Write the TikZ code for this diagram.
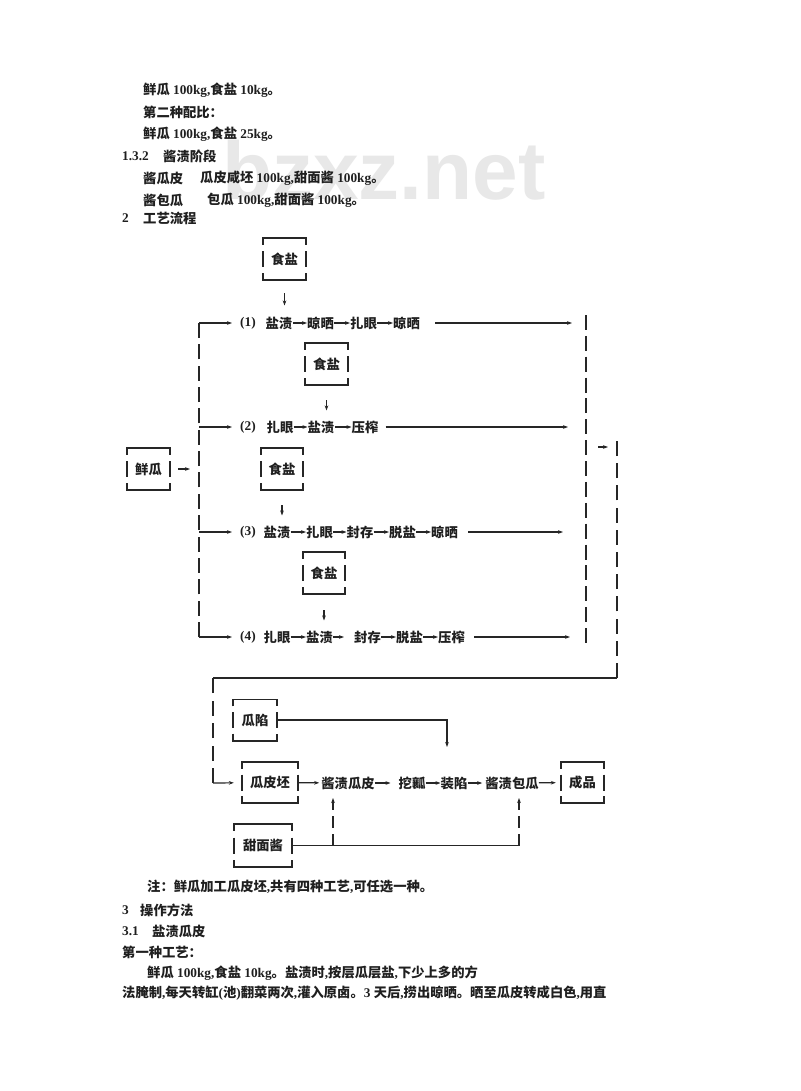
\documentclass[tikz,border=0pt]{standalone}
\usepackage{fontspec}
\setmainfont{Liberation Serif}
\newfontfamily\cjk{Noto Sans CJK SC}
\newfontfamily\latf{Liberation Serif}
\newfontfamily\wmf{Liberation Sans}
\usetikzlibrary{arrows.meta,calc}
\newcommand\enf[1]{{\latf\bfseries #1}}
\newcommand\brbox[6]{%
  \node[bxt, minimum width=#4, minimum height=#5] (#1) at (#2,#3) {#6};
  \draw[bxl] ([yshift=-7pt]#1.north west) -- (#1.north west) -- (#1.north east) -- ([yshift=-7pt]#1.north east);
  \draw[bxl] ([yshift=7pt]#1.south west) -- (#1.south west) -- (#1.south east) -- ([yshift=7pt]#1.south east);
  \draw[bxl] ([yshift=8pt]#1.west) -- ([yshift=-8pt]#1.west);
  \draw[bxl] ([yshift=8pt]#1.east) -- ([yshift=-8pt]#1.east);
}
\begin{document}
\begin{tikzpicture}[x=1pt,y=-1pt,
  txt/.style={font=\cjk\bfseries\fontsize{13.3}{15}\selectfont, inner sep=0pt, anchor=west, text=black!88},
  wd/.style={font=\cjk\bfseries\fontsize{13.3}{15}\selectfont, inner sep=0pt, text=black!88},
  bxt/.style={wd},
  bxl/.style={line width=1.6pt, draw=black!85},
  ln/.style={line width=1.2pt, draw=black!85},
  ar/.style={ln, -{Stealth[length=5pt,width=3.6pt]}},
  dsh/.style={line width=1.8pt, draw=black!85, dash pattern=on 15pt off #1},
  dsh/.default=6.36pt,
  dshar/.style={line width=1.5pt, draw=black!85, dash pattern=on 12pt off 6pt, -{Stealth[length=5pt,width=3.6pt]}}
]
\useasboundingbox[fill=white] (0,0) rectangle (800,1091);

% watermark
\node[font=\wmf\bfseries\fontsize{82}{82}\selectfont, text=black!9, anchor=base west, inner sep=0pt] (wm) at (222,200) {bzxz.net};

% top text
\node[txt] (t1) at (143,90) {鲜瓜\enf{ 100kg,}食盐\enf{ 10kg}。};
\node[txt] (t2) at (143,112) {第二种配比：};
\node[txt] (t3) at (143,134) {鲜瓜\enf{ 100kg,}食盐\enf{ 25kg}。};
\node[txt] (t4a) at (122,156) {\enf{1.3.2}};
\node[txt] (t4b) at (163,156) {酱渍阶段};
\node[txt] (t5a) at (143,178) {酱瓜皮};
\node[txt] (t5b) at (200,178) {瓜皮咸坯\enf{ 100kg,}甜面酱\enf{ 100kg}。};
\node[txt] (t6a) at (143,200) {酱包瓜};
\node[txt] (t6b) at (207,200) {包瓜\enf{ 100kg,}甜面酱\enf{ 100kg}。};
\node[txt] (t7a) at (122,218) {\enf{2}};
\node[txt] (t7b) at (143,218) {工艺流程};

% salt boxes and fresh melon
\brbox{s1}{284.5}{259}{43pt}{42pt}{食盐}
\brbox{s2}{326.5}{364}{43pt}{42pt}{食盐}
\brbox{s3}{282}{469}{42pt}{42pt}{食盐}
\brbox{s4}{324}{573}{42pt}{42pt}{食盐}
\brbox{xg}{148.5}{469}{43pt}{42pt}{鲜瓜}

% row 1
\node[txt] (r1n) at (240,323) {\enf{(1)}};
\node[wd] (r1a) at (279,323) {盐渍};
\node[wd] (r1b) at (320.5,323) {晾晒};
\node[wd] (r1c) at (363.5,323) {扎眼};
\node[wd] (r1d) at (406.5,323) {晾晒};
% row 2
\node[txt] (r2n) at (240,427) {\enf{(2)}};
\node[wd] (r2a) at (280,427) {扎眼};
\node[wd] (r2b) at (321,427) {盐渍};
\node[wd] (r2c) at (365,427) {压榨};
% row 3
\node[txt] (r3n) at (240,532) {\enf{(3)}};
\node[wd] (r3a) at (277,532) {盐渍};
\node[wd] (r3b) at (319.5,532) {扎眼};
\node[wd] (r3c) at (360,532) {封存};
\node[wd] (r3d) at (402.5,532) {脱盐};
\node[wd] (r3e) at (444.5,532) {晾晒};
% row 4
\node[txt] (r4n) at (240,637) {\enf{(4)}};
\node[wd] (r4a) at (277,637) {扎眼};
\node[wd] (r4b) at (319.5,637) {盐渍};
\node[wd] (r4c) at (367.5,637) {封存};
\node[wd] (r4d) at (409.5,637) {脱盐};
\node[wd] (r4e) at (451.5,637) {压榨};

% coordinates
\coordinate (L1) at (199,323);
\coordinate (L2) at (199,427);
\coordinate (L3) at (199,532);
\coordinate (L4) at (199,637);
\coordinate (R1) at (586,323);
\coordinate (R2) at (586,427);
\coordinate (R3) at (586,532);
\coordinate (R4) at (586,637);
\coordinate (RT) at (586,315);
\coordinate (RB) at (586,643);
\coordinate (M1) at (586,447);
\coordinate (M2) at (617,447);
\coordinate (B0) at (617,441);
\coordinate (B1) at (617,678);
\coordinate (B2) at (213,678);
\coordinate (B3) at (213,783);

% salt arrows
\draw[ar, shorten <=13pt, shorten >=11pt] (s1.south) -- (s1.south |- r1a.north);
\draw[ar, shorten <=15pt, shorten >=10pt] (s2.south) -- (s2.south |- r2a.north);
\draw[ar, shorten <=15pt, shorten >=10pt] (s3.south) -- (s3.south |- r3a.north);
\draw[ar, shorten <=16pt, shorten >=10pt] (s4.south) -- (s4.south |- r4a.north);

% left distribution
\draw[dsh] (L4) -- (L1);
\draw[ar, shorten <=8pt, shorten >=9pt] (xg) -- (xg -| L1);
\draw[ar, shorten >=8pt] (L1) -- (r1n);
\draw[ar, shorten >=8pt] (L2) -- (r2n);
\draw[ar, shorten >=8pt] (L3) -- (r3n);
\draw[ar, shorten >=8pt] (L4) -- (r4n);

% step arrows
\draw[ar] (r1a) -- (r1b);
\draw[ar] (r1b) -- (r1c);
\draw[ar] (r1c) -- (r1d);
\draw[ar] (r2a) -- (r2b);
\draw[ar] (r2b) -- (r2c);
\draw[ar] (r3a) -- (r3b);
\draw[ar] (r3b) -- (r3c);
\draw[ar] (r3c) -- (r3d);
\draw[ar] (r3d) -- (r3e);
\draw[ar] (r4a) -- (r4b);
\draw[ar, shorten >=10pt] (r4b) -- (r4c);
\draw[ar] (r4c) -- (r4d);
\draw[ar] (r4d) -- (r4e);

% long lines to collector
\draw[ar, shorten <=15pt, shorten >=14pt] (r1d) -- (R1);
\draw[ar, shorten <=7pt, shorten >=18pt] (r2c) -- (R2);
\draw[ar, shorten <=10pt, shorten >=23pt] (r3e) -- (R3);
\draw[ar, shorten <=9pt, shorten >=16pt] (r4e) -- (R4);

% collectors
\draw[dsh=5.87pt] (RT) -- (RB);
\draw[ar, shorten <=12pt, shorten >=9pt] (M1) -- (M2);
\draw[dsh=7.2pt] (B1) -- (B0);
\draw[ln] (B1) -- (B2);
\draw[dsh=7.5pt] (B3) -- (B2);

% lower part
\brbox{gx}{255}{720}{44pt}{41pt}{瓜陷}
\brbox{gpp}{270}{782.5}{56pt}{41pt}{瓜皮坯}
\brbox{cp}{582.5}{782.5}{43pt}{41pt}{成品}
\brbox{tm}{263}{845.5}{58pt}{43pt}{甜面酱}
\node[wd] (jzgp) at (348,783) {酱渍瓜皮};
\node[wd] (wr) at (412,783) {挖瓤};
\node[wd] (zx) at (454,783) {装陷};
\node[wd] (jzbg) at (512,783) {酱渍包瓜};

\coordinate (gxd) at (447,747);
\coordinate (u1) at (333,798);
\coordinate (u2) at (519,798);

\draw[ar, shorten >=8pt] (B3) -- (gpp);
\draw[ar, shorten >=2pt] (gpp) -- (jzgp);
\draw[ar, shorten >=8pt] (jzgp) -- (wr);
\draw[ar] (wr) -- (zx);
\draw[ar, shorten >=3pt] (zx) -- (jzbg);
\draw[ar, shorten >=5pt] (jzbg) -- (cp);
\draw[ar] (gx.east) -| (gxd);
\draw[ln] (tm.east) -- (tm.east -| u2);
\draw[dshar] (tm.east -| u1) -- (u1);
\draw[dshar] (tm.east -| u2) -- (u2);

% bottom text
\node[txt] (n1) at (147,887) {注：鲜瓜加工瓜皮坯\enf{,}共有四种工艺\enf{,}可任选一种。};
\node[txt] (h3a) at (122,910) {\enf{3}};
\node[txt] (h3b) at (140,910) {操作方法};
\node[txt] (h31a) at (122,931) {\enf{3.1}};
\node[txt] (h31b) at (152,931) {盐渍瓜皮};
\node[txt] (p0) at (122,952) {第一种工艺：};
\node[txt] (p1) at (147,973) {鲜瓜\enf{ 100kg,}食盐\enf{ 10kg}。盐渍时\enf{,}按层瓜层盐\enf{,}下少上多的方};
\node[txt] (p2) at (122,993) {法腌制\enf{,}每天转缸\enf{(}池\enf{)}翻菜两次\enf{,}灌入原卤。\enf{3 }天后\enf{,}捞出晾晒。晒至瓜皮转成白色\enf{,}用直};
\end{tikzpicture}
\end{document}
